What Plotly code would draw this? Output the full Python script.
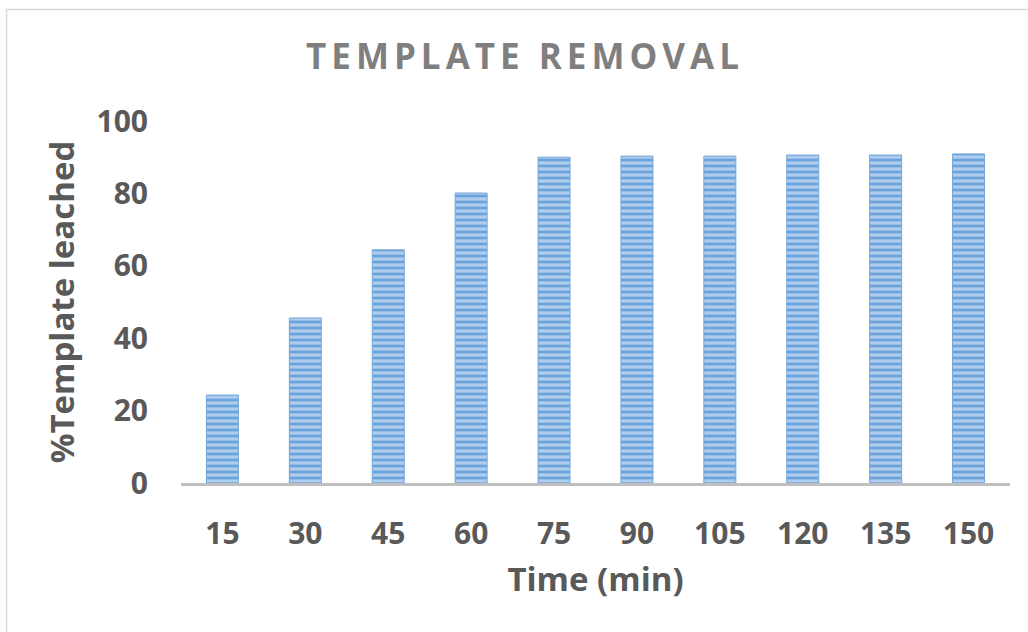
import plotly.graph_objects as go

# Leaching time (min) and percentage of template removed
time_min = ["15", "30", "45", "60", "75", "90", "105", "120", "135", "150"]
template_leached = [24.3, 45.6, 64.4, 80.1, 90.0, 90.3, 90.3, 90.6, 90.6, 90.9]
y_ticks = [0, 20, 40, 60, 80, 100]

W, H = 1028, 632
L, R, T, B = 181, 18, 121, 149
pw, ph = W - L - R, H - T - B

label_color = "#595959"
font_family = "Open Sans"

fig = go.Figure(
    go.Bar(
        x=time_min,
        y=template_leached,
        width=0.386,
        marker=dict(
            color="#a8c9ec",
            line=dict(color="#74a6da", width=1),
            pattern=dict(
                shape="-",
                fgcolor="#6aa3dc",
                bgcolor="#aecdee",
                size=6,
                solidity=0.45,
                fillmode="replace",
            ),
        ),
        hoverinfo="x+y",
    )
)

# outer chart frame
fig.add_shape(
    type="rect",
    xref="paper", yref="paper",
    x0=(6.5 - L) / pw, x1=(W + 20 - L) / pw,
    y0=(H - B - (H + 20)) / ph, y1=(H - B - 9.5) / ph,
    line=dict(color="#d9d9d9", width=1.5),
    fillcolor="rgba(0,0,0,0)",
    layer="below",
)

fig.update_layout(
    width=W, height=H,
    margin=dict(l=L, r=R, t=T, b=B),
    paper_bgcolor="white",
    plot_bgcolor="white",
    showlegend=False,
    title=dict(
        text='<span style="letter-spacing:5px">TEMPLATE REMOVAL</span>',
        x=525 / W, xanchor="center", xref="container",
        y=1 - 57 / H, yanchor="middle", yref="container",
        font=dict(family=font_family, size=35, color="#7f7f7f", weight="bold"),
    ),
    font=dict(family=font_family, color=label_color),
    bargap=0.614,
)

fig.update_xaxes(
    type="category",
    showgrid=False,
    showline=True,
    linecolor="#bfbfbf",
    linewidth=2.5,
    ticks="",
    ticklabelstandoff=22,
    tickfont=dict(size=30, color=label_color, weight="bold"),
    title=dict(text="Time (min)", standoff=17,
               font=dict(size=33, color=label_color, weight="bold")),
)

fig.update_yaxes(
    range=[0, 100],
    tickvals=y_ticks,
    showgrid=False,
    zeroline=False,
    showline=False,
    ticks="",
    ticklabelstandoff=32,
    tickfont=dict(size=30, color=label_color, weight="bold"),
    title=dict(text="%Template leached", standoff=11,
               font=dict(size=33, color=label_color, weight="bold")),
)

fig.write_html("out.html")
